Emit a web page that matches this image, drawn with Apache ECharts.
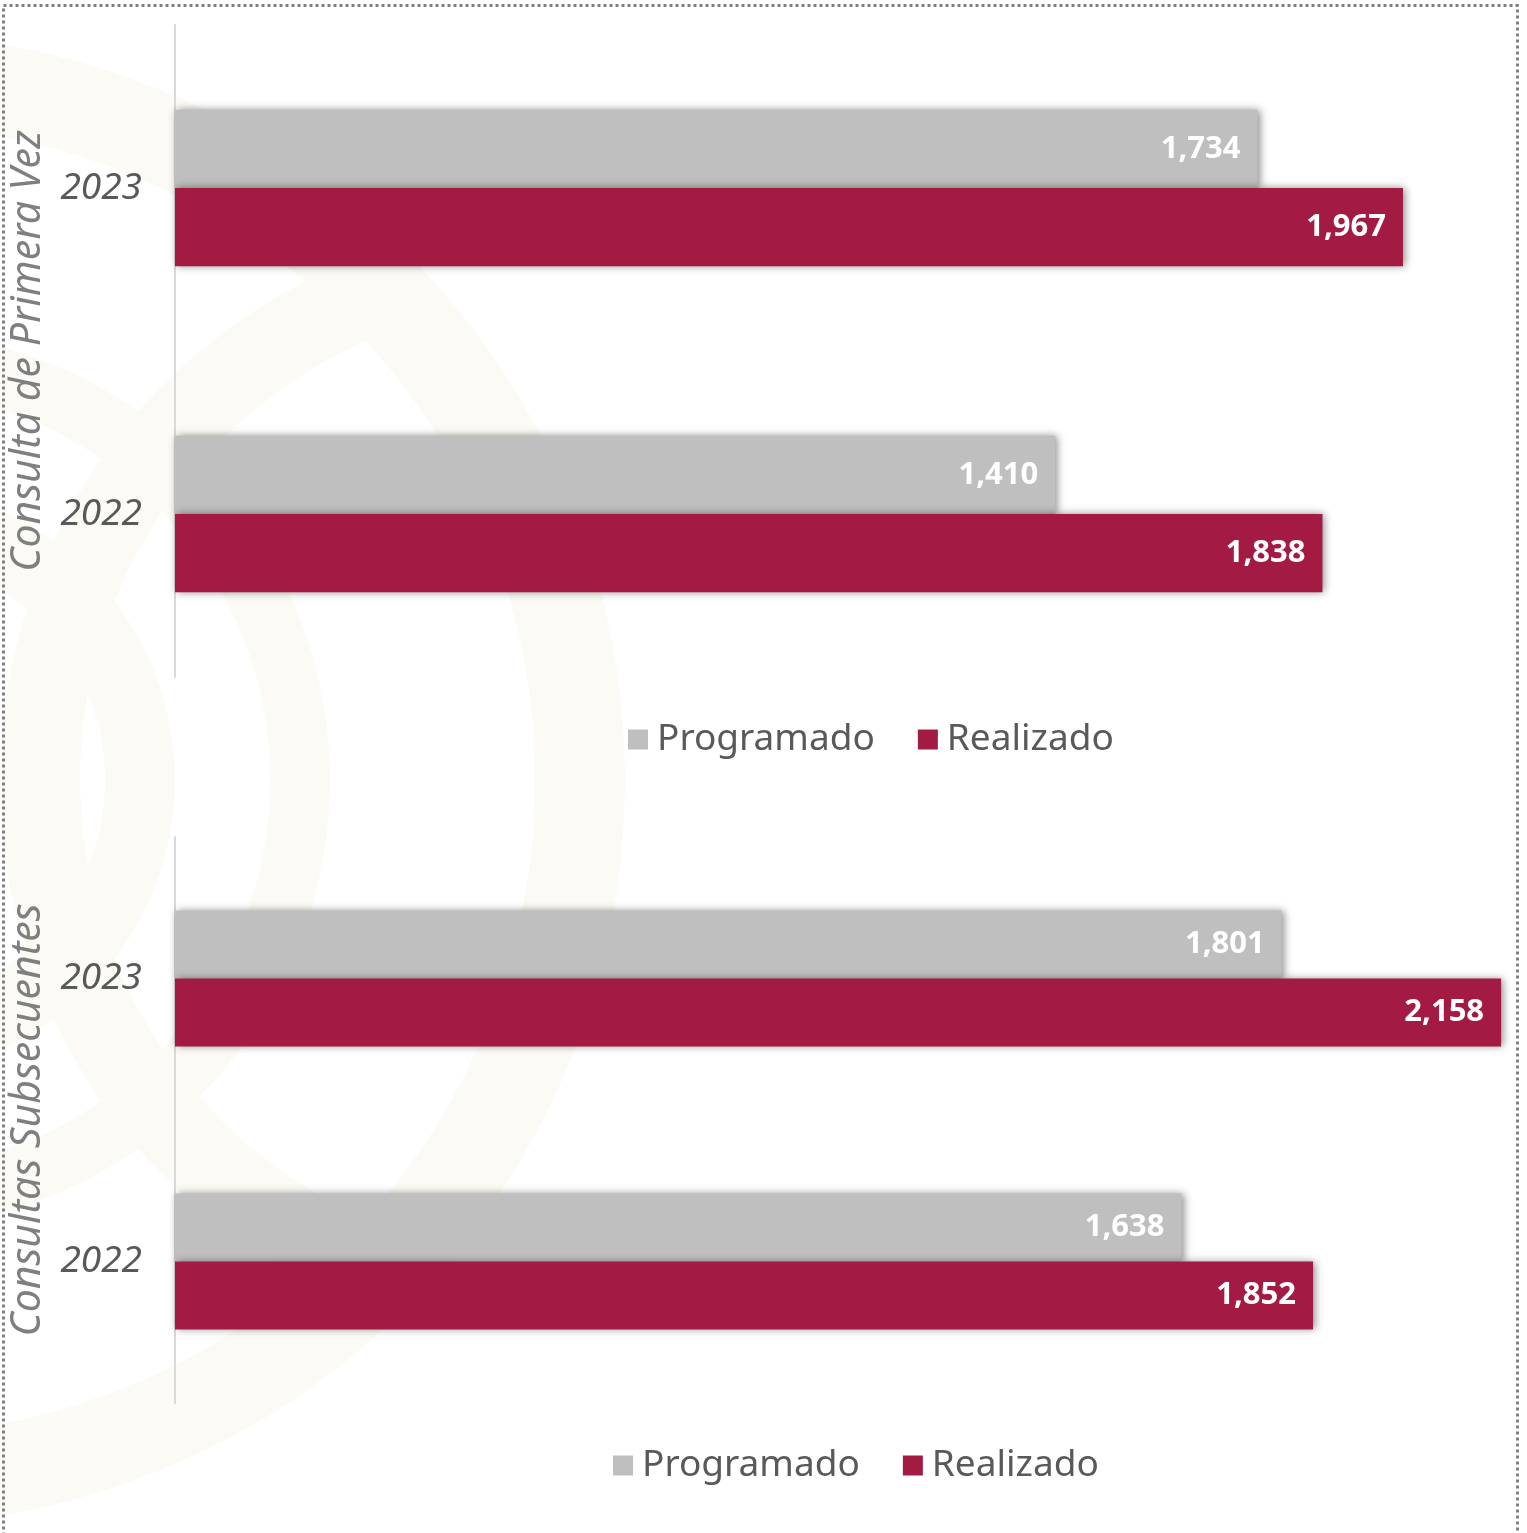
<!DOCTYPE html>
<html>
<head>
<meta charset="utf-8">
<script src="https://cdn.jsdelivr.net/npm/echarts@6/dist/echarts.min.js"></script>
<style>
  html, body { margin: 0; padding: 0; background: #fff; }
  #main { width: 1527px; height: 1533px; }
</style>
</head>
<body>
<div id="main"></div>
<script>
var years = ['2023', '2022'];
var seriesNames = ['Programado', 'Realizado'];
var primeraProgramado = [1734, 1410];
var primeraRealizado = [1967, 1838];
var subsProgramado = [1801, 1638];
var subsRealizado = [2158, 1852];
var titles = ['Consulta de Primera Vez', 'Consultas Subsecuentes'];

var GRIS = '#BFBFBF';
var GUINDA = '#A31A43';
var BEIGE = '#FBFAF4';
var FONT = '"Noto Sans", sans-serif';

var chart = echarts.init(document.getElementById('main'));

function barSerie(nombre, datos, color, idx) {
  return {
    name: nombre,
    type: 'bar',
    xAxisIndex: idx,
    yAxisIndex: idx,
    data: datos,
    barGap: '0%',
    barCategoryGap: '52%',
    itemStyle: {
      color: color,
      shadowBlur: 8,
      shadowColor: 'rgba(0,0,0,0.45)',
      shadowOffsetX: 2,
      shadowOffsetY: 0
    },
    label: {
      show: true,
      position: 'insideRight',
      distance: 17,
      color: '#fff',
      fontFamily: FONT,
      fontWeight: 'bold',
      fontSize: 31,
      formatter: function (p) { return p.value.toLocaleString('en-US'); }
    },
    emphasis: { disabled: true }
  };
}

function ejeY(idx) {
  return {
    type: 'category',
    gridIndex: idx,
    data: years,
    inverse: true,
    name: titles[idx],
    nameLocation: 'middle',
    nameRotate: 90,
    nameGap: 126,
    nameTextStyle: { color: '#7F7F7F', fontStyle: 'italic', fontSize: 41, fontFamily: FONT },
    axisLine: { lineStyle: { color: '#D9D9D9', width: 2 } },
    axisTick: { show: false },
    axisLabel: { color: '#595959', fontStyle: 'italic', fontSize: 37, fontFamily: FONT, margin: 33 }
  };
}

function ejeX(idx, max) {
  return {
    type: 'value',
    gridIndex: idx,
    min: 0,
    max: max,
    show: false,
    splitLine: { show: false }
  };
}

function leyenda(left, top) {
  return {
    left: left, top: top,
    padding: 0,
    itemWidth: 20, itemHeight: 20, itemGap: 43,
    icon: 'rect',
    data: seriesNames,
    textStyle: { color: '#595959', fontSize: 37, fontFamily: FONT, padding: [0, 0, 0, 4] }
  };
}

// marca de agua tenue del fondo
function arco(cx, cy, r, w, a0, a1) {
  return {
    type: 'arc', z: -10, silent: true,
    shape: { cx: cx, cy: cy, r: r, startAngle: a0, endAngle: a1 },
    style: { fill: 'none', stroke: BEIGE, lineWidth: w }
  };
}

var option = {
  backgroundColor: '#ffffff',
  animation: false,
  graphic: [
    arco(-120, 780, 260, 70, -Math.PI / 2, Math.PI / 2),
    arco(-120, 780, 420, 60, -Math.PI / 2, Math.PI / 2),
    arco(-120, 780, 700, 90, -Math.PI / 2, Math.PI / 2),
    arco(560, 780, 520, 80, Math.PI * 0.9, Math.PI * 1.4),
    arco(560, 780, 520, 80, Math.PI * 0.6, Math.PI * 1.0),
    {
      type: 'rect',
      shape: { x: 3.5, y: 5.5, width: 1514, height: 1540 },
      style: { fill: 'none', stroke: '#7F7F7F', lineWidth: 3, lineDash: [3, 3] },
      silent: true
    }
  ],
  legend: [leyenda(628, 721), leyenda(613, 1447)],
  grid: [
    { left: 173, top: 25, width: 1250.6, height: 652 },   // 0.6253 px por unidad
    { left: 173, top: 837, width: 1353.9, height: 566 }   // 0.6154 px por unidad
  ],
  xAxis: [ejeX(0, 2000), ejeX(1, 2200)],
  yAxis: [ejeY(0), ejeY(1)],
  series: [
    barSerie('Programado', primeraProgramado, GRIS, 0),
    barSerie('Realizado', primeraRealizado, GUINDA, 0),
    barSerie('Programado', subsProgramado, GRIS, 1),
    barSerie('Realizado', subsRealizado, GUINDA, 1)
  ]
};

chart.setOption(option);
</script>
</body>
</html>
